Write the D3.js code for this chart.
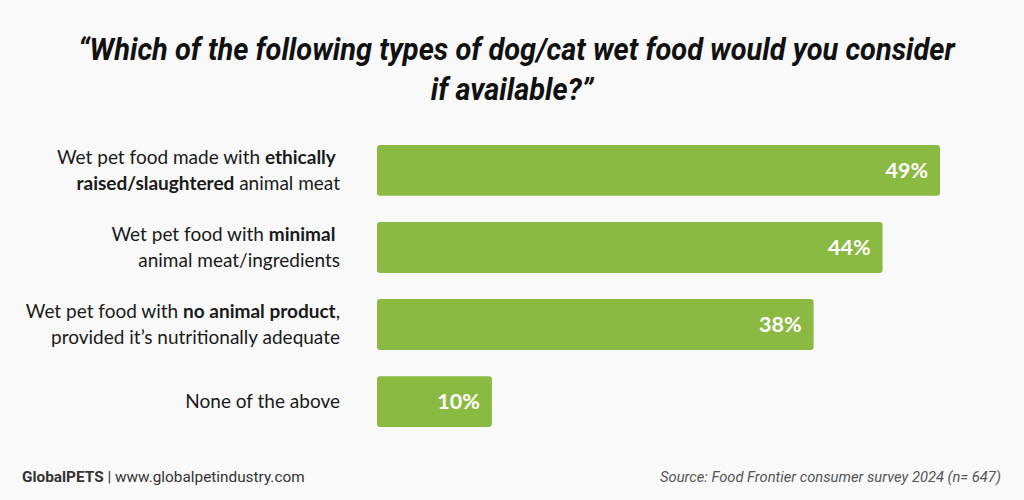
<!DOCTYPE html>
<html><head><meta charset="utf-8">
<script src="https://cdn.jsdelivr.net/npm/d3@7"></script>
<style>body{margin:0;background:#f9f9f9}svg{display:block}</style>
</head><body><svg id="c" width="1024" height="500"></svg>
<script>
const categories = ["ethical","minimal","noanimal","none"];
const labelLines = [
  [[["Wet pet food made with ",false],["ethically ",true]],[["raised/slaughtered",true],[" animal meat",false]]],
  [[["Wet pet food with ",false],["minimal ",true]],[["animal meat/ingredients",false]]],
  [[["Wet pet food with ",false],["no animal product",true],[",",false]],[["provided it\u2019s nutritionally adequate",false]]],
  [[["None of the above",false]]]
];
const values = [49,44,38,10];
const titleLines = ["\u201cWhich of the following types of dog/cat wet food would you consider","if available?\u201d"];
const footerLeft = [["GlobalPETS",true],[" | www.globalpetindustry.com",false]];
const footerRight = "Source: Food Frontier consumer survey 2024 (n= 647)";

const svg = d3.select("#c");
svg.append("rect").attr("width",1024).attr("height",500).attr("fill","#f9f9f9");

const x = d3.scaleLinear().domain([0,49]).range([377,940]);
const y = d3.scaleBand().domain(categories).range([145,427]).paddingInner(0.34);

// title
const tg = svg.append("g");
const t1 = tg.append("text").attr("x",0).attr("y",60).text(titleLines[0])
  .attr("font-family","Roboto").attr("font-weight",700).attr("font-style","italic").attr("font-size",31).attr("fill","#111");
const len1 = t1.node().getComputedTextLength();
const k = 877/len1;
t1.attr("text-anchor","middle").attr("x",516.5/k);
tg.append("text").attr("x",512/k).attr("y",100).attr("text-anchor","middle").text(titleLines[1])
  .attr("font-family","Roboto").attr("font-weight",700).attr("font-style","italic").attr("font-size",31).attr("fill","#111");
tg.attr("transform",`scale(${k},1)`);

// bars
svg.append("g").selectAll("rect").data(values).join("rect")
  .attr("x",x(0)).attr("y",(d,i)=>y(categories[i]))
  .attr("width",d=>x(d)-x(0)).attr("height",y.bandwidth())
  .attr("rx",3).attr("fill","#8aba41");

svg.append("g").selectAll("text").data(values).join("text")
  .attr("x",d=>x(d)-12).attr("y",(d,i)=>y(categories[i])+y.bandwidth()/2+7.5)
  .attr("text-anchor","end").attr("font-family","Lato").attr("font-weight",700)
  .attr("font-size",21.5).attr("fill","#fff").text(d=>d+"%");

// labels
const lg = svg.append("g");
labelLines.forEach((lines,i)=>{
  const cy = y(categories[i])+y.bandwidth()/2;
  const n = lines.length;
  lines.forEach((segs,j)=>{
    const by = cy + (j-(n-1)/2)*26 + 6.5;
    const t = lg.append("text").attr("x",340).attr("y",by).attr("text-anchor","end")
      .attr("font-family","Lato").attr("font-size",19).attr("fill","#1a1a1a").attr("xml:space","preserve");
    segs.forEach(s=>t.append("tspan").attr("font-weight",s[1]?700:400).text(s[0]));
  });
});

// footer
const fl = svg.append("text").attr("x",0).attr("y",482).attr("font-family","Roboto").attr("font-size",14.5).attr("fill","#333").attr("xml:space","preserve");
footerLeft.forEach(s=>fl.append("tspan").attr("font-weight",s[1]?700:400).text(s[0]));
const kl = 283/fl.node().getComputedTextLength();
fl.attr("transform",`translate(22,0) scale(${kl},1)`);
const fr = svg.append("text").attr("x",0).attr("y",482).attr("font-family","Roboto").attr("font-style","italic").attr("font-size",14.5).attr("fill","#555").text(footerRight);
const kr = 341/fr.node().getComputedTextLength();
fr.attr("transform",`translate(660,0) scale(${kr},1)`);
</script></body></html>
